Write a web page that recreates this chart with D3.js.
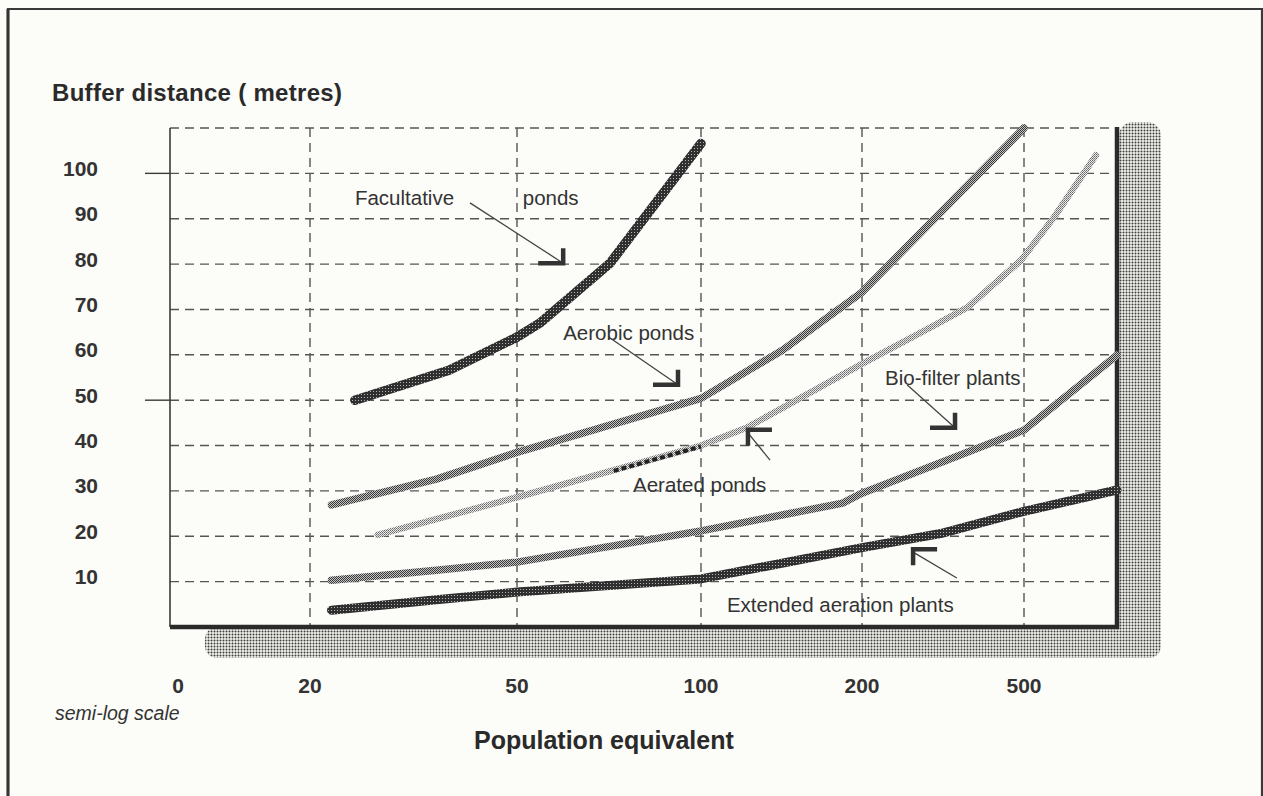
<!DOCTYPE html>
<html><head><meta charset="utf-8">
<script src="https://cdn.jsdelivr.net/npm/d3@7"></script>
<style>html,body{margin:0;padding:0;background:#fcfcf8;} svg{display:block}</style>
</head><body>
<svg id="chart" width="1263" height="796"></svg>
<script>
// ---------- data ----------
const yTickValues = [10,20,30,40,50,60,70,80,90,100];
const yTickLabels = ["10","20","30","40","50","60","70","80","90","100"];
const yGridValues = [10,20,30,40,50,60,70,80,90,100,110];
const yMajorMarks = [50,100];
const xTickValues = [0,20,50,100,200,500];
const xTickLabels = ["0","20","50","100","200","500"];
const xGridValues = [20,50,100,200,500];

// population equivalent , buffer distance (m)
const facultative = [[24.4,50],[37,56.6],[50,63.9],[54.5,67],[71,80.2],[100,106.6]];
const aerobic     = [[22,26.9],[35,32.6],[50,38.5],[100,50.4],[142,61],[200,73.8],[500,110]];
const aerated     = [[27,20.3],[50,28.6],[72,34.6],[100,40],[122,44],[200,58],[294,66],[364,70.5],[491,80.8],[593,90.3],[753,104]];
const aeratedDash = [[72,34.4],[100,39.8]];
const bioFilter   = [[22,10.3],[35,12.5],[50,14.3],[100,21.2],[184,27.3],[200,29.5],[500,43.4],[849,59.9]];
const extended    = [[22,3.7],[35,6],[50,7.7],[100,10.6],[200,17.5],[312,20.6],[500,25.5],[849,30.2]];

const annotations = [
  {label:"Facultative",              at:[24.4,94.6]},
  {label:"ponds",                    at:[51.1,94.6]},
  {label:"Aerobic ponds",            at:[59.5,64.8]},
  {label:"Aerated ponds",            at:[77.4,31.3]},
  {label:"Bio-filter plants",        at:[227.8,54.9]},
  {label:"Extended aeration plants", at:[111.8,4.85]}
];
const leaders = [
  {from:[40.6,93.5], to:[59.5,80.2], corner:"br"},
  {from:[71,63.7],   to:[91.7,53.4], corner:"br"},
  {from:[134.6,36.8],to:[122.4,42.8],corner:"tl"},
  {from:[258,53.4],  to:[338.5,43.9],corner:"br"},
  {from:[342,10.8],  to:[267,16.5],  corner:"tl"}
];

// ---------- layout ----------
const svg = d3.select("#chart");
const plotLeft = 170, plotRight = 1117, plotTop = 128, plotBottom = 627;
const x = d3.scaleLog().domain([20,50,100,200,500,849]).range([310,517,701,862,1024,plotRight]);
const y = d3.scaleLinear().domain([0,110]).range([plotBottom, plotTop]);
const xPos = v => v === 0 ? plotLeft : x(v);
const font = "'Liberation Sans', Arial, Helvetica, sans-serif";
const ink = "#333";

svg.append("rect").attr("width",1263).attr("height",796).attr("fill","#fcfcf8");

// patterns
const defs = svg.append("defs");
const shadowPat = defs.append("pattern").attr("id","shadow").attr("patternUnits","userSpaceOnUse").attr("width",3).attr("height",3);
shadowPat.append("rect").attr("width",3).attr("height",3).attr("fill","#f0f0ec");
shadowPat.append("circle").attr("cx",1.5).attr("cy",1.5).attr("r",1.0).attr("fill","#3a3a3a");

const darkPat = defs.append("pattern").attr("id","dark").attr("patternUnits","userSpaceOnUse").attr("width",3).attr("height",3);
darkPat.append("rect").attr("width",3).attr("height",3).attr("fill","#2f2f2f");
darkPat.append("rect").attr("x",1).attr("y",1).attr("width",1).attr("height",1).attr("fill","#b5b5b5");

const midPat = defs.append("pattern").attr("id","mid").attr("patternUnits","userSpaceOnUse").attr("width",2).attr("height",2);
midPat.append("rect").attr("width",2).attr("height",2).attr("fill","#c4c4c4");
midPat.append("rect").attr("width",1).attr("height",1).attr("fill","#383838");
midPat.append("rect").attr("x",1).attr("y",1).attr("width",1).attr("height",1).attr("fill","#383838");

const lightPat = defs.append("pattern").attr("id","light").attr("patternUnits","userSpaceOnUse").attr("width",2).attr("height",2);
lightPat.append("rect").attr("width",2).attr("height",2).attr("fill","#e8e8e8");
lightPat.append("rect").attr("width",1).attr("height",1).attr("fill","#666");
lightPat.append("rect").attr("x",1).attr("y",1).attr("width",1).attr("height",1).attr("fill","#888");

// outer frame
svg.append("path").attr("d","M8,796 L8,9 L1262,9 L1262,796").attr("fill","none").attr("stroke","#3a3a3a").attr("stroke-width",2.2);
svg.append("line").attr("x1",8).attr("x2",8).attr("y1",9).attr("y2",796).attr("stroke","#333").attr("stroke-width",3);

// shadow
svg.append("rect").attr("x",plotRight+2).attr("y",plotTop-6).attr("width",42).attr("height",plotBottom-plotTop+37).attr("rx",14).attr("fill","url(#shadow)");
svg.append("rect").attr("x",205).attr("y",plotBottom).attr("width",plotRight+44-205).attr("height",31).attr("rx",12).attr("fill","url(#shadow)");

// grid
const g = svg.append("g");
g.selectAll("line.hg").data(yGridValues).join("line").attr("class","hg")
  .attr("x1",plotLeft).attr("x2",plotRight).attr("y1",d=>y(d)).attr("y2",d=>y(d))
  .attr("stroke","#555").attr("stroke-width",1.4).attr("stroke-dasharray","9 6");
g.selectAll("line.vg").data(xGridValues).join("line").attr("class","vg")
  .attr("x1",d=>x(d)).attr("x2",d=>x(d)).attr("y1",y(110)).attr("y2",y(0))
  .attr("stroke","#555").attr("stroke-width",1.4).attr("stroke-dasharray","9 6");

// axes
g.append("line").attr("x1",plotLeft).attr("x2",plotLeft).attr("y1",y(110)).attr("y2",y(0)).attr("stroke","#3a3a3a").attr("stroke-width",1.6);
g.selectAll("line.mk").data(yMajorMarks).join("line").attr("class","mk")
  .attr("x1",plotLeft-25).attr("x2",plotLeft).attr("y1",d=>y(d)).attr("y2",d=>y(d)).attr("stroke","#3a3a3a").attr("stroke-width",1.4);
g.append("line").attr("x1",plotLeft).attr("x2",plotRight+2).attr("y1",y(0)).attr("y2",y(0)).attr("stroke","#2a2a2a").attr("stroke-width",4.5);
g.append("line").attr("x1",plotRight).attr("x2",plotRight).attr("y1",y(110)-1).attr("y2",y(0)+2).attr("stroke","#2a2a2a").attr("stroke-width",4.5);

// tick labels
svg.selectAll("text.yt").data(yTickValues).join("text").attr("class","yt")
  .attr("x",98).attr("y",d=>y(d)-5).attr("dy","0.36em").attr("text-anchor","end")
  .attr("font-family",font).attr("font-weight","bold").attr("font-size",21).attr("fill",ink)
  .text((d,i)=>yTickLabels[i]);
svg.selectAll("text.xt").data(xTickValues).join("text").attr("class","xt")
  .attr("x",d=>xPos(d)+(d===0?8:0)).attr("y",685).attr("dy","0.36em").attr("text-anchor","middle")
  .attr("font-family",font).attr("font-weight","bold").attr("font-size",21).attr("fill",ink)
  .text((d,i)=>xTickLabels[i]);

// titles
svg.append("text").attr("x",52).attr("y",92).attr("dy","0.36em").attr("font-family",font).attr("font-weight","bold")
  .attr("font-size",24).attr("letter-spacing",0.3).attr("fill","#2a2a2a").text("Buffer distance ( metres)");
svg.append("text").attr("x",55).attr("y",713).attr("dy","0.36em").attr("font-family",font).attr("font-style","italic")
  .attr("font-size",19.5).attr("fill",ink).text("semi-log scale");
svg.append("text").attr("x",474).attr("y",740).attr("dy","0.36em").attr("font-family",font).attr("font-weight","bold")
  .attr("font-size",25).attr("fill","#2a2a2a").text("Population equivalent");

// series
const line = d3.line().x(d=>x(d[0])).y(d=>y(d[1])).curve(d3.curveLinear);
const series = [
  {data:aerobic, pat:"mid", w:7.5},
  {data:aerated, pat:"light", w:6.5},
  {data:bioFilter, pat:"mid", w:7.5},
  {data:extended, pat:"dark", w:9},
  {data:facultative, pat:"dark", w:9.5}
];
svg.selectAll("path.s").data(series).join("path").attr("class","s")
  .attr("d",d=>line(d.data)).attr("fill","none").attr("stroke",d=>`url(#${d.pat})`)
  .attr("stroke-width",d=>d.w).attr("stroke-linecap","round").attr("stroke-linejoin","round");
svg.append("path").attr("d",line(aeratedDash)).attr("fill","none")
  .attr("stroke","#222").attr("stroke-width",4).attr("stroke-dasharray","5 3");

// annotations
svg.selectAll("text.an").data(annotations).join("text").attr("class","an")
  .attr("x",d=>x(d.at[0])).attr("y",d=>y(d.at[1])).attr("dy","0.36em")
  .attr("font-family",font).attr("font-size",20.5).attr("fill",ink).text(d=>d.label);
svg.selectAll("line.ld").data(leaders).join("line").attr("class","ld")
  .attr("x1",d=>x(d.from[0])).attr("y1",d=>y(d.from[1])).attr("x2",d=>x(d.to[0])).attr("y2",d=>y(d.to[1]))
  .attr("stroke","#444").attr("stroke-width",1.3);
svg.selectAll("path.cn").data(leaders).join("path").attr("class","cn")
  .attr("d",d=>{
    const tx=x(d.to[0]), ty=y(d.to[1]);
    return d.corner==="br" ? `M${tx-25},${ty} L${tx},${ty} L${tx},${ty-15}` : `M${tx+24},${ty-3} L${tx},${ty-3} L${tx},${ty+13}`;
  })
  .attr("fill","none").attr("stroke","#333").attr("stroke-width",4.5);
</script>
</body></html>
